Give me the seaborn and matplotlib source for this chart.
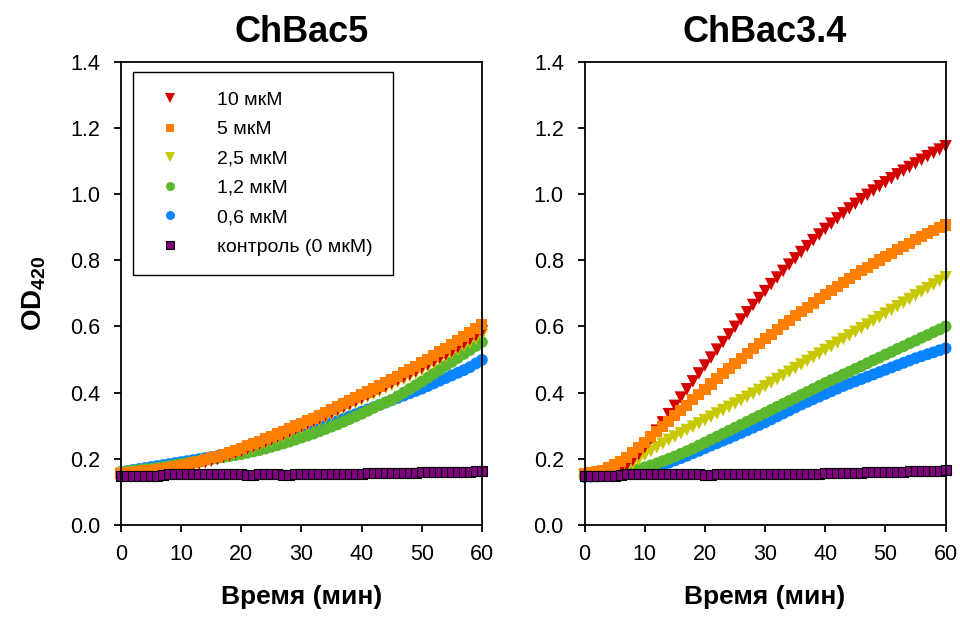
import numpy as np
import pandas as pd
import matplotlib
matplotlib.use("Agg")
import matplotlib.pyplot as plt
import seaborn as sns

# ---------------- data ----------------
time_min = list(range(0, 61))
concentrations = ["10 мкМ", "5 мкМ", "2,5 мкМ", "1,2 мкМ", "0,6 мкМ", "контроль (0 мкМ)"]
panel_titles = ["ChBac5", "ChBac3.4"]
x_ticks = [0, 10, 20, 30, 40, 50, 60]
y_ticks = [0.0, 0.2, 0.4, 0.6, 0.8, 1.0, 1.2, 1.4]

# ChBac5
chbac5_10 = [0.152, 0.153, 0.154, 0.156, 0.158, 0.160, 0.162, 0.165, 0.168, 0.171, 0.174, 0.177, 0.181, 0.185,
             0.189, 0.194, 0.199, 0.205, 0.211, 0.217, 0.223, 0.230, 0.237, 0.244, 0.251, 0.258, 0.266, 0.274,
             0.282, 0.290, 0.298, 0.306, 0.314, 0.322, 0.330, 0.339, 0.348, 0.357, 0.366, 0.375, 0.384, 0.393,
             0.402, 0.411, 0.420, 0.429, 0.438, 0.447, 0.456, 0.465, 0.475, 0.485, 0.495, 0.505, 0.515, 0.525,
             0.537, 0.549, 0.561, 0.573, 0.585]
chbac5_5 = [0.155, 0.157, 0.159, 0.161, 0.163, 0.165, 0.167, 0.170, 0.173, 0.176, 0.180, 0.184, 0.188, 0.193,
            0.198, 0.203, 0.208, 0.214, 0.220, 0.226, 0.232, 0.239, 0.246, 0.253, 0.260, 0.267, 0.275, 0.283,
            0.291, 0.299, 0.307, 0.315, 0.323, 0.331, 0.339, 0.348, 0.357, 0.366, 0.375, 0.384, 0.393, 0.402,
            0.411, 0.420, 0.430, 0.440, 0.450, 0.460, 0.470, 0.480, 0.490, 0.501, 0.512, 0.523, 0.534, 0.545,
            0.557, 0.569, 0.581, 0.593, 0.605]
chbac5_2_5 = [0.155, 0.156, 0.157, 0.159, 0.161, 0.163, 0.165, 0.167, 0.170, 0.173, 0.176, 0.179, 0.183, 0.187,
              0.191, 0.195, 0.200, 0.205, 0.210, 0.215, 0.221, 0.227, 0.233, 0.240, 0.247, 0.254, 0.261, 0.269,
              0.277, 0.285, 0.293, 0.301, 0.309, 0.317, 0.325, 0.333, 0.342, 0.351, 0.360, 0.369, 0.378, 0.387,
              0.396, 0.405, 0.414, 0.423, 0.432, 0.441, 0.450, 0.459, 0.469, 0.479, 0.489, 0.499, 0.509, 0.519,
              0.530, 0.541, 0.552, 0.563, 0.574]
chbac5_1_2 = [0.160, 0.162, 0.164, 0.166, 0.168, 0.170, 0.172, 0.175, 0.178, 0.181, 0.184, 0.187, 0.190, 0.193,
              0.196, 0.199, 0.202, 0.205, 0.208, 0.211, 0.214, 0.218, 0.222, 0.226, 0.231, 0.236, 0.241, 0.246,
              0.252, 0.258, 0.264, 0.270, 0.276, 0.283, 0.290, 0.297, 0.304, 0.312, 0.320, 0.328, 0.336, 0.345,
              0.354, 0.363, 0.370, 0.378, 0.389, 0.400, 0.411, 0.422, 0.433, 0.445, 0.457, 0.469, 0.481, 0.493,
              0.505, 0.517, 0.529, 0.541, 0.553]
chbac5_0_6 = [0.160, 0.163, 0.166, 0.169, 0.172, 0.175, 0.178, 0.181, 0.184, 0.187, 0.190, 0.193, 0.196, 0.199,
              0.202, 0.205, 0.208, 0.211, 0.214, 0.218, 0.222, 0.226, 0.230, 0.235, 0.240, 0.245, 0.250, 0.256,
              0.262, 0.268, 0.274, 0.280, 0.286, 0.293, 0.300, 0.307, 0.314, 0.321, 0.328, 0.335, 0.342, 0.349,
              0.356, 0.363, 0.370, 0.377, 0.384, 0.391, 0.398, 0.405, 0.412, 0.420, 0.428, 0.436, 0.444, 0.452,
              0.460, 0.468, 0.477, 0.488, 0.499]
chbac5_ctrl = [0.149, 0.149, 0.148, 0.149, 0.149, 0.149, 0.149, 0.152, 0.153, 0.153, 0.153, 0.153, 0.153, 0.153,
               0.153, 0.153, 0.153, 0.153, 0.153, 0.153, 0.153, 0.152, 0.152, 0.153, 0.153, 0.153, 0.153, 0.152,
               0.152, 0.153, 0.153, 0.154, 0.154, 0.154, 0.154, 0.154, 0.154, 0.155, 0.155, 0.155, 0.155, 0.156,
               0.156, 0.156, 0.157, 0.157, 0.157, 0.158, 0.158, 0.158, 0.159, 0.159, 0.159, 0.160, 0.160, 0.160,
               0.161, 0.161, 0.161, 0.162, 0.164]

# ChBac3.4
chbac34_10 = [0.150, 0.151, 0.152, 0.154, 0.157, 0.162, 0.170, 0.181, 0.196, 0.214, 0.236, 0.260, 0.285, 0.310,
              0.335, 0.360, 0.385, 0.410, 0.434, 0.458, 0.482, 0.506, 0.530, 0.553, 0.576, 0.599, 0.621, 0.643,
              0.665, 0.686, 0.707, 0.728, 0.748, 0.768, 0.787, 0.806, 0.825, 0.843, 0.861, 0.878, 0.895, 0.911,
              0.927, 0.942, 0.957, 0.971, 0.985, 0.998, 1.011, 1.024, 1.036, 1.048, 1.060, 1.071, 1.082, 1.093,
              1.104, 1.115, 1.125, 1.135, 1.145]
chbac34_5 = [0.155, 0.157, 0.160, 0.165, 0.172, 0.181, 0.192, 0.205, 0.219, 0.234, 0.250, 0.266, 0.282, 0.298,
             0.314, 0.330, 0.346, 0.362, 0.378, 0.394, 0.410, 0.426, 0.442, 0.458, 0.474, 0.489, 0.504, 0.519,
             0.534, 0.549, 0.563, 0.577, 0.591, 0.605, 0.619, 0.632, 0.645, 0.658, 0.671, 0.684, 0.697, 0.709,
             0.721, 0.733, 0.745, 0.757, 0.768, 0.779, 0.790, 0.801, 0.812, 0.822, 0.832, 0.842, 0.852, 0.862,
             0.871, 0.880, 0.889, 0.898, 0.907]
chbac34_2_5 = [0.150, 0.150, 0.151, 0.152, 0.154, 0.157, 0.162, 0.172, 0.185, 0.198, 0.211, 0.223, 0.235, 0.246,
               0.257, 0.267, 0.277, 0.287, 0.297, 0.307, 0.317, 0.327, 0.337, 0.347, 0.357, 0.367, 0.377, 0.387,
               0.397, 0.408, 0.419, 0.430, 0.441, 0.452, 0.463, 0.474, 0.485, 0.496, 0.507, 0.518, 0.529, 0.540,
               0.551, 0.562, 0.573, 0.584, 0.595, 0.606, 0.617, 0.628, 0.639, 0.650, 0.661, 0.672, 0.683, 0.694,
               0.705, 0.716, 0.727, 0.738, 0.749]
chbac34_1_2 = [0.150, 0.150, 0.151, 0.152, 0.153, 0.155, 0.158, 0.161, 0.165, 0.169, 0.174, 0.180, 0.186, 0.193,
               0.200, 0.207, 0.215, 0.223, 0.231, 0.240, 0.249, 0.258, 0.267, 0.276, 0.285, 0.294, 0.303, 0.312,
               0.321, 0.330, 0.339, 0.348, 0.357, 0.366, 0.375, 0.384, 0.393, 0.402, 0.411, 0.420, 0.429, 0.438,
               0.446, 0.455, 0.463, 0.472, 0.480, 0.489, 0.498, 0.506, 0.515, 0.523, 0.532, 0.540, 0.549, 0.557,
               0.566, 0.574, 0.583, 0.591, 0.600]
chbac34_0_6 = [0.145, 0.146, 0.147, 0.148, 0.149, 0.150, 0.152, 0.154, 0.157, 0.160, 0.164, 0.170, 0.176, 0.182,
               0.188, 0.195, 0.202, 0.209, 0.217, 0.224, 0.232, 0.240, 0.247, 0.255, 0.262, 0.270, 0.278, 0.286,
               0.294, 0.302, 0.310, 0.319, 0.328, 0.337, 0.346, 0.355, 0.364, 0.372, 0.380, 0.388, 0.396, 0.404,
               0.412, 0.420, 0.427, 0.434, 0.441, 0.448, 0.455, 0.462, 0.469, 0.476, 0.483, 0.490, 0.497, 0.504,
               0.510, 0.516, 0.522, 0.528, 0.534]
chbac34_ctrl = [0.148, 0.148, 0.147, 0.148, 0.148, 0.148, 0.152, 0.153, 0.153, 0.153, 0.153, 0.153, 0.154, 0.153,
                0.153, 0.153, 0.153, 0.153, 0.153, 0.153, 0.152, 0.152, 0.153, 0.153, 0.153, 0.153, 0.153, 0.153,
                0.153, 0.154, 0.154, 0.154, 0.154, 0.155, 0.154, 0.154, 0.155, 0.155, 0.155, 0.155, 0.156, 0.156,
                0.157, 0.157, 0.158, 0.158, 0.158, 0.159, 0.159, 0.160, 0.160, 0.160, 0.161, 0.161, 0.162, 0.162,
                0.162, 0.163, 0.163, 0.163, 0.166]

panel_series = [
    [chbac5_10, chbac5_5, chbac5_2_5, chbac5_1_2, chbac5_0_6, chbac5_ctrl],
    [chbac34_10, chbac34_5, chbac34_2_5, chbac34_1_2, chbac34_0_6, chbac34_ctrl],
]

# ---------------- style ----------------
colors = ["#D40000", "#FF8000", "#C8C800", "#5BB82E", "#0A85FF", "#800080"]
markers = ["v", "s", "v", "o", "o", "s"]
msizes = [9.0, 8.0, 9.0, 8.5, 8.5, 7.5]
legend_sizes = [7.0, 6.0, 7.0, 6.5, 6.5, 6.0]
edgecols = ["none", "none", "none", "none", "none", "black"]
draw_order = [4, 3, 2, 0, 1, 5]

sns.set_theme(style="ticks")
plt.rcParams["font.family"] = ["Liberation Sans", "DejaVu Sans"]
plt.rcParams["mathtext.fontset"] = "custom"
plt.rcParams["mathtext.rm"] = "Liberation Sans"
plt.rcParams["mathtext.bf"] = "Liberation Sans:bold"
plt.rcParams["text.color"] = "black"
plt.rcParams["axes.labelcolor"] = "black"
plt.rcParams["xtick.color"] = "black"
plt.rcParams["ytick.color"] = "black"

fig = plt.figure(figsize=(9.6, 6.19), dpi=100)
ax_pos = [[0.126, 0.152, 0.376, 0.748], [0.609, 0.152, 0.376, 0.748]]

for p in range(2):
    ax = fig.add_axes(ax_pos[p])
    for i in draw_order:
        df = pd.DataFrame({"t": time_min, "od": panel_series[p][i]})
        sns.scatterplot(data=df, x="t", y="od", ax=ax, marker=markers[i], s=msizes[i] ** 2,
                        color=colors[i], edgecolor=edgecols[i],
                        linewidth=0.8 if edgecols[i] != "none" else 0,
                        zorder=3 + draw_order.index(i), legend=False, clip_on=False)
    ax.set_xlim(0, 60)
    ax.set_ylim(0, 1.4)
    ax.set_xticks(x_ticks)
    ax.set_yticks(y_ticks)
    ax.set_yticklabels([f"{v:.1f}" for v in y_ticks])
    ax.set_xticklabels([str(v) for v in x_ticks])
    for s in ax.spines.values():
        s.set_visible(True)
        s.set_color("black")
        s.set_linewidth(1.3)
        s.set_zorder(20)
    ax.tick_params(axis="both", direction="out", length=5, width=1.3, colors="black",
                   labelsize=15.5)
    ax.tick_params(axis="y", pad=10)
    ax.tick_params(axis="x", pad=9)
    ax.set_xlabel("Время (мин)", fontsize=19, fontweight="bold", labelpad=14)
    if p == 0:
        ax.set_ylabel(r"$\mathbf{OD_{420}}$", fontsize=20, labelpad=16)
    else:
        ax.set_ylabel("")
    ax.set_title(panel_titles[p], fontsize=26, fontweight="bold", pad=14)
    ax.grid(False)
    if p == 0:
        handles = [plt.Line2D([], [], linestyle="none", marker=markers[i], markersize=legend_sizes[i],
                              markerfacecolor=colors[i],
                              markeredgecolor=("black" if edgecols[i] != "none" else colors[i]),
                              markeredgewidth=0.8 if edgecols[i] != "none" else 0)
                   for i in range(6)]
        leg = ax.legend(handles, concentrations, loc="upper left",
                        bbox_to_anchor=(0.033, 0.978), fontsize=14, frameon=True, fancybox=False,
                        edgecolor="black", framealpha=1, borderpad=1.0, labelspacing=0.6,
                        handlelength=1.8, handletextpad=1.55, borderaxespad=0)
        leg.get_frame().set_linewidth(1.0)
        leg.set_zorder(30)

fig.savefig("out.png", dpi=100)
